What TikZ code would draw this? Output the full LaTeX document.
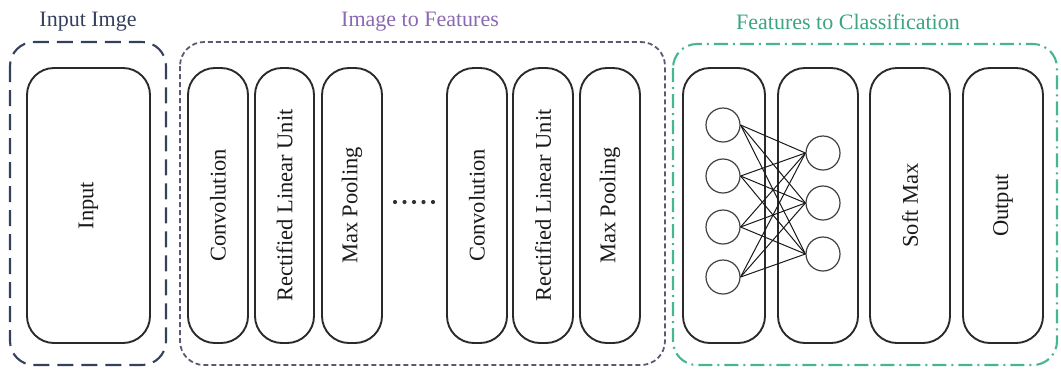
\documentclass[tikz,border=0pt]{standalone}
\usepackage{fontspec}
\setmainfont{Liberation Serif}
\definecolor{navy}{HTML}{34405C}
\definecolor{purp}{HTML}{8A68B2}
\definecolor{purpline}{HTML}{5C5A72}
\definecolor{grn}{HTML}{3AA580}
\definecolor{grnline}{HTML}{45B592}
\definecolor{boxline}{HTML}{2A2A2A}
\begin{document}
\begin{tikzpicture}[x=1pt,y=-1pt,
  title/.style={font=\fontsize{22}{25}\selectfont, anchor=center},
  layer/.style={draw=boxline, line width=1.9pt, rounded corners=27pt, rotate=90,
    minimum width=275pt, inner sep=0pt, font=\fontsize{22.5}{25}\selectfont, text=black!90},
  neuron/.style={circle, draw=black!75, line width=1.2pt, minimum size=34pt, inner sep=0pt},
  link/.style={draw=black!90, line width=1pt},
  dotmark/.style={circle, fill=black!80, minimum size=4.2pt, inner sep=0pt},
]
\useasboundingbox (0,0) rectangle (1061,368);

% group frames
\draw[navy, line width=2.1pt, dash pattern=on 16pt off 8pt, rounded corners=24pt]
  (10,42) rectangle (166,365);
\draw[purpline, line width=1.8pt, dash pattern=on 5pt off 3pt, rounded corners=24pt]
  (180,42) rectangle (665,365);
\draw[grnline, line width=2.1pt, dash pattern=on 14pt off 5pt on 2pt off 5pt, rounded corners=24pt]
  (673,44) rectangle (1057,365);

% titles
\node[title, text=navy] (t1) at (88,22) {Input Imge};
\node[title, text=purp] (t2) at (420,22) {Image to Features};
\node[title, text=grn] (t3) at (848,22) {Features to Classification};

% layers
\node[layer, minimum height=123pt] (in) at (88.5,205.5) {Input};
\node[layer, minimum height=60pt] (c1) at (218,205.5) {Convolution};
\node[layer, minimum height=59pt] (r1) at (284.5,205.5) {Rectified Linear Unit};
\node[layer, minimum height=60pt] (m1) at (352,205.5) {Max Pooling};
\node[layer, minimum height=60pt] (c2) at (477,205.5) {Convolution};
\node[layer, minimum height=60pt] (r2) at (543,205.5) {Rectified Linear Unit};
\node[layer, minimum height=60pt] (m2) at (610,205.5) {Max Pooling};
\node[layer, minimum height=82pt] (f1) at (724,205.5) {};
\node[layer, minimum height=80pt] (f2) at (818,205.5) {};
\node[layer, minimum height=80pt] (sm) at (910,205.5) {Soft Max};
\node[layer, minimum height=80pt] (out) at (1003,205.5) {Output};

% dots
\foreach \i/\x in {1/395,2/404.5,3/414,4/423.5,5/433}
  \node[dotmark] (d\i) at (\x,202) {};

% neurons
\node[neuron] (a1) at (723,125) {};
\node[neuron] (a2) at (723,176) {};
\node[neuron] (a3) at (723,227) {};
\node[neuron] (a4) at (723,277) {};
\node[neuron] (b1) at (823,153) {};
\node[neuron] (b2) at (823,203) {};
\node[neuron] (b3) at (823,254) {};
\foreach \a in {a1,a2,a3,a4}
  \foreach \b in {b1,b2,b3}
    \draw[link] (\a.east) -- (\b.west);
\end{tikzpicture}
\end{document}
